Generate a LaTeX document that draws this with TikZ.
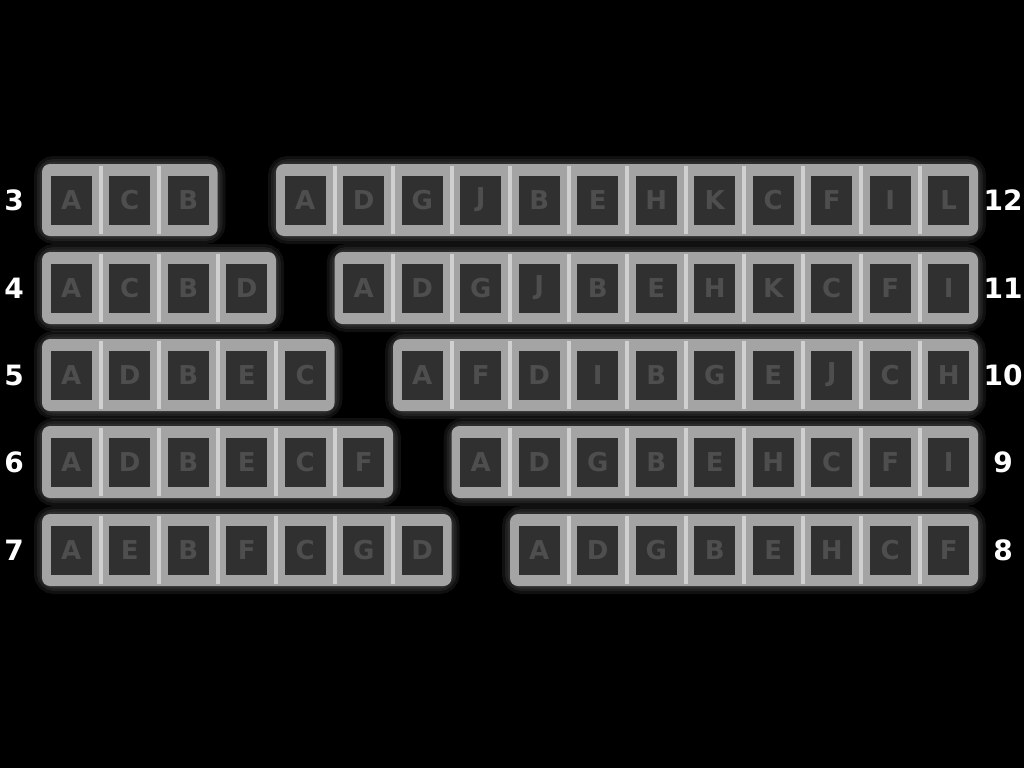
\documentclass[tikz,border=0pt]{standalone}
\usepackage{fontspec}
\setmainfont{DejaVu Sans}
\definecolor{frame}{HTML}{A4A4A4}
\definecolor{cellbg}{HTML}{303030}
\definecolor{seamc}{HTML}{D0D0D0}
\definecolor{glyph}{HTML}{4E4E4E}
\tikzset{
  groupbox/.style={fill=frame, rounded corners=8pt},
  glowbox/.style={draw=frame, line width=#1, opacity=0.10, rounded corners=12pt},
  cell/.style={fill=cellbg, minimum width=41pt, minimum height=49pt, inner sep=0pt,
    text=glyph, font=\fontsize{26}{26}\selectfont\bfseries},
  seam/.style={draw=seamc, line width=4pt},
  num/.style={text=white, font=\fontsize{28}{28}\selectfont\bfseries, inner sep=0pt}
}
% #1 row id, #2 y, #3 left count, #4 left letters, #5 right letters
\newcommand\seatrow[5]{%
  \pgfmathsetmacro\xa{42+#3*58.5}%
  \pgfmathsetmacro\xb{42+(#3+1)*58.5}%
  \pgfmathtruncatemacro\nr{15-#3}%
  \pgfmathtruncatemacro\nlm{#3-1}%
  \pgfmathtruncatemacro\nrm{15-#3-1}%
  \foreach \w in {16pt,10pt,5pt}{%
    \draw[glowbox=\w] (42,#2-36) rectangle (\xa,#2+36);
    \draw[glowbox=\w] (\xb,#2-36) rectangle (978,#2+36);}
  \fill[groupbox] (42,#2-36) rectangle (\xa,#2+36);
  \fill[groupbox] (\xb,#2-36) rectangle (978,#2+36);
  \foreach \k in {1,...,\nlm}{\draw[seam] ({42+\k*58.5},#2-34) -- ({42+\k*58.5},#2+34);}
  \foreach \k in {1,...,\nrm}{\draw[seam] ({\xb+\k*58.5},#2-34) -- ({\xb+\k*58.5},#2+34);}
  \foreach \t [count=\i] in {#4}{\node[cell] (#1L\i) at ({42+(\i-0.5)*58.5},#2) {\t};}
  \foreach \t [count=\i] in {#5}{\node[cell] (#1R\i) at ({\xb+(\i-0.5)*58.5},#2) {\t};}
  \node[num] (#1nl) at (14,#2) {#3};
  \node[num] (#1nr) at (1003,#2) {\nr};
}
\begin{document}
\begin{tikzpicture}[x=1pt,y=-1pt]
\fill[black] (0,0) rectangle (1024,768);
\useasboundingbox (0,0) rectangle (1024,768);
\seatrow{a}{200}{3}{A,C,B}{A,D,G,J,B,E,H,K,C,F,I,L}
\seatrow{b}{288}{4}{A,C,B,D}{A,D,G,J,B,E,H,K,C,F,I}
\seatrow{c}{375}{5}{A,D,B,E,C}{A,F,D,I,B,G,E,J,C,H}
\seatrow{d}{462}{6}{A,D,B,E,C,F}{A,D,G,B,E,H,C,F,I}
\seatrow{e}{550}{7}{A,E,B,F,C,G,D}{A,D,G,B,E,H,C,F}
\end{tikzpicture}
\end{document}
